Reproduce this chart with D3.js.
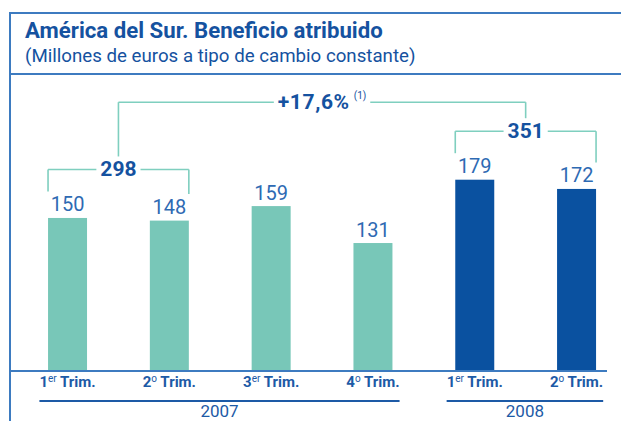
<!DOCTYPE html>
<html>
<head>
<meta charset="utf-8">
<script src="https://cdn.jsdelivr.net/npm/d3@7"></script>
<style>
  body { margin: 0; background: #fff; }
  svg { display: block; }
  text { font-family: Roboto, "Noto Sans", sans-serif; }
</style>
</head>
<body>
<svg id="chart" width="621" height="421"></svg>
<script>
// Quarterly attributable profit, South America (EUR millions, constant FX)
const quarterNumbers = ["1", "2", "3", "4", "1", "2"];
const quarterOrdinals = ["er", "o", "er", "o", "er", "o"];
const quarterYears = ["2007", "2007", "2007", "2007", "2008", "2008"];
const values = [150, 148, 159, 131, 179, 172];
const yearLabels = ["2007", "2008"];
// First-half totals (1er + 2º Trim.) for each year
const halfTotals = [298, 351];
const halfBars = [[0, 1], [4, 5]];
const growthLabel = "+17,6%";
const growthNote = "(1)";

const W = 621, H = 421;
const svg = d3.select("#chart");

const C = {
  frame: "#3d7bc0",
  title: "#1552a0",
  value: "#2e6ab3",
  teal: "#78c7b8",
  blue: "#0a51a0",
  bracket: "#7fcfbf",
  axis: "#1d5aa6"
};

const idx = d3.range(values.length);
const x = d3.scaleBand()
  .domain(idx)
  .range([17.5, 626.6])
  .paddingInner(0.617)
  .paddingOuter(0.3);
const bw = x.bandwidth();

const baseY = 371;
const y = d3.scaleLinear().domain([34, 200]).range([baseY, 152]);

// Frame
const frame = svg.append("g").attr("stroke", C.frame).attr("stroke-width", 2).attr("fill", "none");
frame.append("line").attr("x1", 10).attr("x2", W).attr("y1", 13).attr("y2", 13);
frame.append("line").attr("x1", 10).attr("x2", W).attr("y1", 74).attr("y2", 74);
frame.append("line").attr("x1", 10).attr("x2", 10).attr("y1", 12).attr("y2", H);

// Titles
svg.append("text").attr("x", 25).attr("y", 38)
  .attr("fill", C.title).attr("font-size", 22.2).attr("font-weight", 700)
  .text("América del Sur. Beneficio atribuido");
svg.append("text").attr("x", 25).attr("y", 62)
  .attr("fill", C.title).attr("font-size", 18.7)
  .text("(Millones de euros a tipo de cambio constante)");

// Bars
svg.append("g").selectAll("rect").data(idx).join("rect")
  .attr("x", i => x(i))
  .attr("width", bw)
  .attr("y", i => y(values[i]))
  .attr("height", i => baseY - y(values[i]))
  .attr("fill", i => quarterYears[i] === "2008" ? C.blue : C.teal);

// Value labels
svg.append("g").selectAll("text").data(idx).join("text")
  .attr("x", i => x(i) + bw / 2)
  .attr("y", i => y(values[i]) - 6.5)
  .attr("text-anchor", "middle")
  .attr("fill", C.value)
  .attr("font-size", 20)
  .text(i => values[i]);

// Baseline
svg.append("line").attr("x1", 10).attr("x2", 607).attr("y1", baseY).attr("y2", baseY)
  .attr("stroke", C.frame).attr("stroke-width", 2);

// Quarter labels with superscript ordinals
const qLabels = svg.append("g").selectAll("text").data(idx).join("text")
  .attr("x", i => x(i) + bw / 2)
  .attr("y", 387)
  .attr("text-anchor", "middle")
  .attr("fill", C.axis)
  .attr("font-size", 15)
  .attr("font-weight", 700);
qLabels.append("tspan").text(i => quarterNumbers[i]);
qLabels.append("tspan").attr("font-size", 10).attr("font-weight", 400).attr("dy", -5)
  .text(i => quarterOrdinals[i]);
qLabels.append("tspan").attr("dy", 5).text(" Trim.");

// Year underlines and labels
const qBoxes = qLabels.nodes().map(n => n.getBBox());
yearLabels.forEach(yr => {
  const members = idx.filter(i => quarterYears[i] === yr);
  const x1 = d3.min(members, i => qBoxes[i].x);
  const x2 = d3.max(members, i => qBoxes[i].x + qBoxes[i].width);
  svg.append("line").attr("x1", x1).attr("x2", x2).attr("y1", 401).attr("y2", 401)
    .attr("stroke", C.axis).attr("stroke-width", 2);
  svg.append("text").attr("x", (x1 + x2) / 2).attr("y", 416.5)
    .attr("text-anchor", "middle").attr("fill", C.axis).attr("font-size", 17)
    .text(yr);
});

// Horizontal connector broken by a centred label
function brokenLine(g, xa, xb, yy, box, pad) {
  g.append("line").attr("x1", xa).attr("x2", box.x - pad).attr("y1", yy).attr("y2", yy);
  g.append("line").attr("x1", box.x + box.width + pad).attr("x2", xb).attr("y1", yy).attr("y2", yy);
}

const br = svg.append("g");
const lines = br.append("g").attr("stroke", C.bracket).attr("stroke-width", 1.6).attr("fill", "none");
const labelTopGap = 6.5 + 15;

// Half-year brackets
const bracketInfo = halfBars.map(([a, b], k) => {
  const xl = x(a), xr = x(b) + bw;
  const yb = y(Math.max(values[a], values[b])) - labelTopGap - 27;
  const cx = (x(a) + bw / 2 + x(b) + bw / 2) / 2;
  const t = br.append("text").attr("x", cx).attr("y", yb + 7)
    .attr("text-anchor", "middle").attr("fill", C.title)
    .attr("font-size", 21).attr("font-weight", 700)
    .text(halfTotals[k]);
  const box = t.node().getBBox();
  brokenLine(lines, xl, xr, yb, box, 4);
  lines.append("line").attr("x1", xl).attr("x2", xl).attr("y1", yb)
    .attr("y2", y(values[a]) - labelTopGap - 5);
  lines.append("line").attr("x1", xr).attr("x2", xr).attr("y1", yb)
    .attr("y2", y(values[b]) - labelTopGap - 5);
  return { cx, yb };
});

// Year-on-year growth bracket
const gy = d3.min(bracketInfo, d => d.yb) - 29;
const gL = bracketInfo[0].cx, gR = bracketInfo[1].cx;
const gText = br.append("text").attr("y", gy + 7).attr("fill", C.title)
  .attr("font-size", 21).attr("font-weight", 700);
gText.append("tspan").attr("letter-spacing", 0.6).text(growthLabel);
gText.append("tspan").attr("dx", 4).attr("dy", -10).attr("font-size", 10)
  .attr("font-weight", 400).text(growthNote);
const gw = gText.node().getBBox().width;
gText.attr("x", (gL + gR) / 2 - gw / 2);
const gBox = gText.node().getBBox();
brokenLine(lines, gL, gR, gy, gBox, 4);
bracketInfo.forEach(d => {
  lines.append("line").attr("x1", d.cx).attr("x2", d.cx).attr("y1", gy).attr("y2", d.yb - 13);
});
</script>
</body>
</html>
